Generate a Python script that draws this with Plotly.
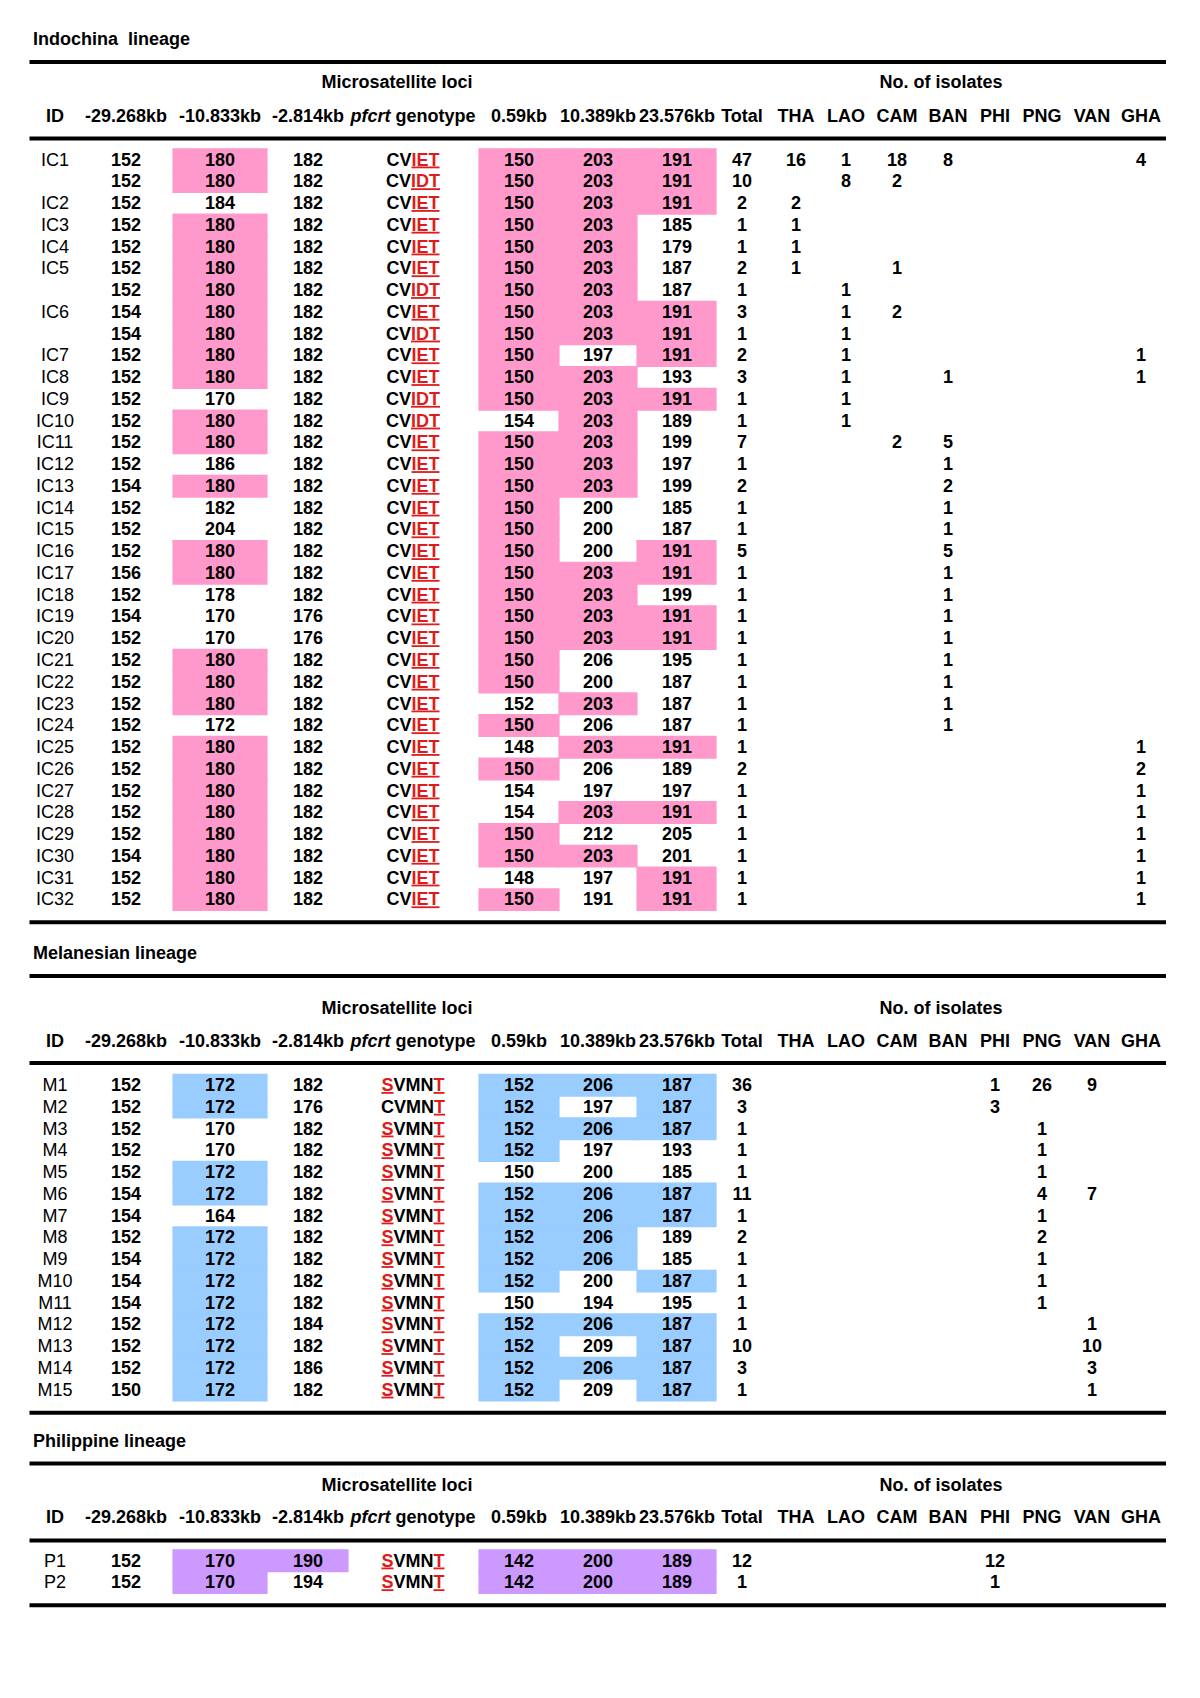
import plotly.graph_objects as go

N = None

# ---------------- DATA ----------------
HEADERS = ["ID", "-29.268kb", "-10.833kb", "-2.814kb", "<i>pfcrt</i> genotype",
           "0.59kb", "10.389kb", "23.576kb", "Total",
           "THA", "LAO", "CAM", "BAN", "PHI", "PNG", "VAN", "GHA"]
GROUP_LABELS = ["Microsatellite loci", "No. of isolates"]
COUNTRIES = ["THA", "LAO", "CAM", "BAN", "PHI", "PNG", "VAN", "GHA"]
WILD_TYPE = "CVMNK"

# Indochina lineage
ic_ids = ["IC1", "", "IC2", "IC3", "IC4", "IC5", "", "IC6", "", "IC7", "IC8", "IC9", "IC10",
          "IC11", "IC12", "IC13", "IC14", "IC15", "IC16", "IC17", "IC18", "IC19", "IC20",
          "IC21", "IC22", "IC23", "IC24", "IC25", "IC26", "IC27", "IC28", "IC29", "IC30",
          "IC31", "IC32"]
ic_m29 = [152, 152, 152, 152, 152, 152, 152, 154, 154, 152, 152, 152, 152, 152, 152, 154, 152, 152,
          152, 156, 152, 154, 152, 152, 152, 152, 152, 152, 152, 152, 152, 152, 154, 152, 152]
ic_m10 = [180, 180, 184, 180, 180, 180, 180, 180, 180, 180, 180, 170, 180, 180, 186, 180, 182, 204,
          180, 180, 178, 170, 170, 180, 180, 180, 172, 180, 180, 180, 180, 180, 180, 180, 180]
ic_m2 = [182, 182, 182, 182, 182, 182, 182, 182, 182, 182, 182, 182, 182, 182, 182, 182, 182, 182,
         182, 182, 182, 176, 176, 182, 182, 182, 182, 182, 182, 182, 182, 182, 182, 182, 182]
ic_geno = ["CVIET", "CVIDT", "CVIET", "CVIET", "CVIET", "CVIET", "CVIDT", "CVIET", "CVIDT", "CVIET",
           "CVIET", "CVIDT", "CVIDT", "CVIET", "CVIET", "CVIET", "CVIET", "CVIET", "CVIET", "CVIET",
           "CVIET", "CVIET", "CVIET", "CVIET", "CVIET", "CVIET", "CVIET", "CVIET", "CVIET", "CVIET",
           "CVIET", "CVIET", "CVIET", "CVIET", "CVIET"]
ic_p059 = [150, 150, 150, 150, 150, 150, 150, 150, 150, 150, 150, 150, 154, 150, 150, 150, 150, 150,
           150, 150, 150, 150, 150, 150, 150, 152, 150, 148, 150, 154, 154, 150, 150, 148, 150]
ic_p10 = [203, 203, 203, 203, 203, 203, 203, 203, 203, 197, 203, 203, 203, 203, 203, 203, 200, 200,
          200, 203, 203, 203, 203, 206, 200, 203, 206, 203, 206, 197, 203, 212, 203, 197, 191]
ic_p23 = [191, 191, 191, 185, 179, 187, 187, 191, 191, 191, 193, 191, 189, 199, 197, 199, 185, 187,
          191, 191, 199, 191, 191, 195, 187, 187, 187, 191, 189, 197, 191, 205, 201, 191, 191]
ic_total = [47, 10, 2, 1, 1, 2, 1, 3, 1, 2, 3, 1, 1, 7, 1, 2, 1, 1,
            5, 1, 1, 1, 1, 1, 1, 1, 1, 1, 2, 1, 1, 1, 1, 1, 1]
ic_tha = [16, N, 2, 1, 1, 1, N, N, N, N, N, N, N, N, N, N, N, N,
          N, N, N, N, N, N, N, N, N, N, N, N, N, N, N, N, N]
ic_lao = [1, 8, N, N, N, N, 1, 1, 1, 1, 1, 1, 1, N, N, N, N, N,
          N, N, N, N, N, N, N, N, N, N, N, N, N, N, N, N, N]
ic_cam = [18, 2, N, N, N, 1, N, 2, N, N, N, N, N, 2, N, N, N, N,
          N, N, N, N, N, N, N, N, N, N, N, N, N, N, N, N, N]
ic_ban = [8, N, N, N, N, N, N, N, N, N, 1, N, N, 5, 1, 2, 1, 1,
          5, 1, 1, 1, 1, 1, 1, 1, 1, N, N, N, N, N, N, N, N]
ic_phi = [N] * 35
ic_png = [N] * 35
ic_van = [N] * 35
ic_gha = [4, N, N, N, N, N, N, N, N, 1, 1, N, N, N, N, N, N, N,
          N, N, N, N, N, N, N, N, N, 1, 2, 1, 1, 1, 1, 1, 1]
ic_core = {"m10": 180, "p059": 150, "p10": 203, "p23": 191}

# Melanesian lineage
me_ids = ["M1", "M2", "M3", "M4", "M5", "M6", "M7", "M8", "M9", "M10", "M11", "M12", "M13", "M14", "M15"]
me_m29 = [152, 152, 152, 152, 152, 154, 154, 152, 154, 154, 154, 152, 152, 152, 150]
me_m10 = [172, 172, 170, 170, 172, 172, 164, 172, 172, 172, 172, 172, 172, 172, 172]
me_m2 = [182, 176, 182, 182, 182, 182, 182, 182, 182, 182, 182, 184, 182, 186, 182]
me_geno = ["SVMNT", "CVMNT", "SVMNT", "SVMNT", "SVMNT", "SVMNT", "SVMNT", "SVMNT", "SVMNT",
           "SVMNT", "SVMNT", "SVMNT", "SVMNT", "SVMNT", "SVMNT"]
me_p059 = [152, 152, 152, 152, 150, 152, 152, 152, 152, 152, 150, 152, 152, 152, 152]
me_p10 = [206, 197, 206, 197, 200, 206, 206, 206, 206, 200, 194, 206, 209, 206, 209]
me_p23 = [187, 187, 187, 193, 185, 187, 187, 189, 185, 187, 195, 187, 187, 187, 187]
me_total = [36, 3, 1, 1, 1, 11, 1, 2, 1, 1, 1, 1, 10, 3, 1]
me_tha = [N] * 15
me_lao = [N] * 15
me_cam = [N] * 15
me_ban = [N] * 15
me_phi = [1, 3, N, N, N, N, N, N, N, N, N, N, N, N, N]
me_png = [26, N, 1, 1, 1, 4, 1, 2, 1, 1, 1, N, N, N, N]
me_van = [9, N, N, N, N, 7, N, N, N, N, N, 1, 10, 3, 1]
me_gha = [N] * 15
me_core = {"m10": 172, "p059": 152, "p10": 206, "p23": 187}

# Philippine lineage
ph_ids = ["P1", "P2"]
ph_m29 = [152, 152]
ph_m10 = [170, 170]
ph_m2 = [190, 194]
ph_geno = ["SVMNT", "SVMNT"]
ph_p059 = [142, 142]
ph_p10 = [200, 200]
ph_p23 = [189, 189]
ph_total = [12, 1]
ph_tha = [N, N]
ph_lao = [N, N]
ph_cam = [N, N]
ph_ban = [N, N]
ph_phi = [12, 1]
ph_png = [N, N]
ph_van = [N, N]
ph_gha = [N, N]
ph_core = {"m10": 170, "m2": 190, "p059": 142, "p10": 200, "p23": 189}

# ---------------- STYLE / LAYOUT ----------------
FONT = "Liberation Sans, Arial, Helvetica, sans-serif"
FS = 18
RED = "#E01B1B"
COL_X = [55, 126, 220, 308, 413, 519, 598, 677, 742, 796, 846, 897, 948, 995, 1042, 1092, 1141]
BAND = {"m10": (173, 267), "m2": (267, 348), "p059": (479, 559), "p10": (559, 637), "p23": (637, 716)}
GROUP_X = [397, 941]
LINE_X = (29.5, 1166)
TITLE_X = 33
PITCH = 21.76
OVERLAP = 0.6

sections = [
    dict(title="Indochina  lineage", color="#FF99CC",
         y=dict(title=40, top=62, group=83, header=117, mid=138.5, row0=161),
         ids=ic_ids, loci=dict(m29=ic_m29, m10=ic_m10, m2=ic_m2, geno=ic_geno, p059=ic_p059, p10=ic_p10, p23=ic_p23),
         total=ic_total, counts=[ic_tha, ic_lao, ic_cam, ic_ban, ic_phi, ic_png, ic_van, ic_gha], core=ic_core),
    dict(title="Melanesian lineage", color="#99CCFF",
         y=dict(title=954, top=976, group=1009, header=1042, mid=1063, row0=1086.5),
         ids=me_ids, loci=dict(m29=me_m29, m10=me_m10, m2=me_m2, geno=me_geno, p059=me_p059, p10=me_p10, p23=me_p23),
         total=me_total, counts=[me_tha, me_lao, me_cam, me_ban, me_phi, me_png, me_van, me_gha], core=me_core),
    dict(title="Philippine lineage", color="#CC99FF",
         y=dict(title=1442.5, top=1463.5, group=1486.5, header=1518, mid=1540.5, row0=1562),
         ids=ph_ids, loci=dict(m29=ph_m29, m10=ph_m10, m2=ph_m2, geno=ph_geno, p059=ph_p059, p10=ph_p10, p23=ph_p23),
         total=ph_total, counts=[ph_tha, ph_lao, ph_cam, ph_ban, ph_phi, ph_png, ph_van, ph_gha], core=ph_core),
]


def geno_markup(g):
    out, i = "", 0
    while i < len(g):
        if g[i] != WILD_TYPE[i]:
            j = i
            while j < len(g) and g[j] != WILD_TYPE[j]:
                j += 1
            out += f'<span style="color:{RED}"><u>{g[i:j]}</u></span>'
            i = j
        else:
            out += g[i]
            i += 1
    return "<b>" + out + "</b>"


def bold(v):
    return "" if v is None else f"<b>{v}</b>"


fig = go.Figure()
shapes = []


def add_text(xs, ys, texts, pos="middle center"):
    fig.add_trace(go.Scatter(x=xs, y=ys, text=texts, mode="text", textposition=pos,
                             textfont=dict(family=FONT, size=FS, color="black"),
                             hoverinfo="skip", showlegend=False, cliponaxis=False))


for s in sections:
    Y = s["y"]
    n = len(s["ids"])
    rows_y = [Y["row0"] + i * PITCH for i in range(n)]
    bottom = rows_y[-1] + 21.5
    # highlight bands
    for key, core in s["core"].items():
        x0, x1 = BAND[key]
        for i, v in enumerate(s["loci"][key]):
            if v == core:
                shapes.append(dict(type="rect", xref="x", yref="y",
                                   x0=x0 - OVERLAP, x1=x1 + OVERLAP,
                                   y0=rows_y[i] - PITCH / 2 - 1.2 - OVERLAP,
                                   y1=rows_y[i] + PITCH / 2 - 1.2 + OVERLAP,
                                   fillcolor=s["color"], line=dict(width=0), layer="below"))
    # rules
    for ly in (Y["top"], Y["mid"], bottom):
        shapes.append(dict(type="line", xref="x", yref="y", x0=LINE_X[0], x1=LINE_X[1], y0=ly, y1=ly,
                           line=dict(color="black", width=4)))
    # title
    add_text([TITLE_X], [Y["title"]], [f"<b>{s['title']}</b>"], pos="middle right")
    # group labels
    add_text(GROUP_X, [Y["group"]] * 2, [f"<b>{g}</b>" for g in GROUP_LABELS])
    # column headers
    add_text(COL_X, [Y["header"]] * len(HEADERS), [f"<b>{h}</b>" for h in HEADERS])
    # ID column (regular weight)
    add_text([COL_X[0]] * n, rows_y, s["ids"])
    # loci columns
    for ci, key in enumerate(["m29", "m10", "m2", "geno", "p059", "p10", "p23"], start=1):
        vals = s["loci"][key]
        texts = [geno_markup(v) for v in vals] if key == "geno" else [bold(v) for v in vals]
        add_text([COL_X[ci]] * n, rows_y, texts)
    # total
    add_text([COL_X[8]] * n, rows_y, [bold(v) for v in s["total"]])
    # country counts
    for k, col in enumerate(s["counts"]):
        add_text([COL_X[9 + k]] * n, rows_y, [bold(v) for v in col])

fig.update_layout(
    width=1200, height=1698,
    margin=dict(l=0, r=0, t=0, b=0),
    paper_bgcolor="white", plot_bgcolor="white",
    xaxis=dict(range=[0, 1200], visible=False, fixedrange=True),
    yaxis=dict(range=[1698, 0], visible=False, fixedrange=True),
    shapes=shapes,
    font=dict(family=FONT, size=FS, color="black"),
)

fig.write_html("out.html", config={"displayModeBar": False},
               post_script="document.body.style.margin='0';")
